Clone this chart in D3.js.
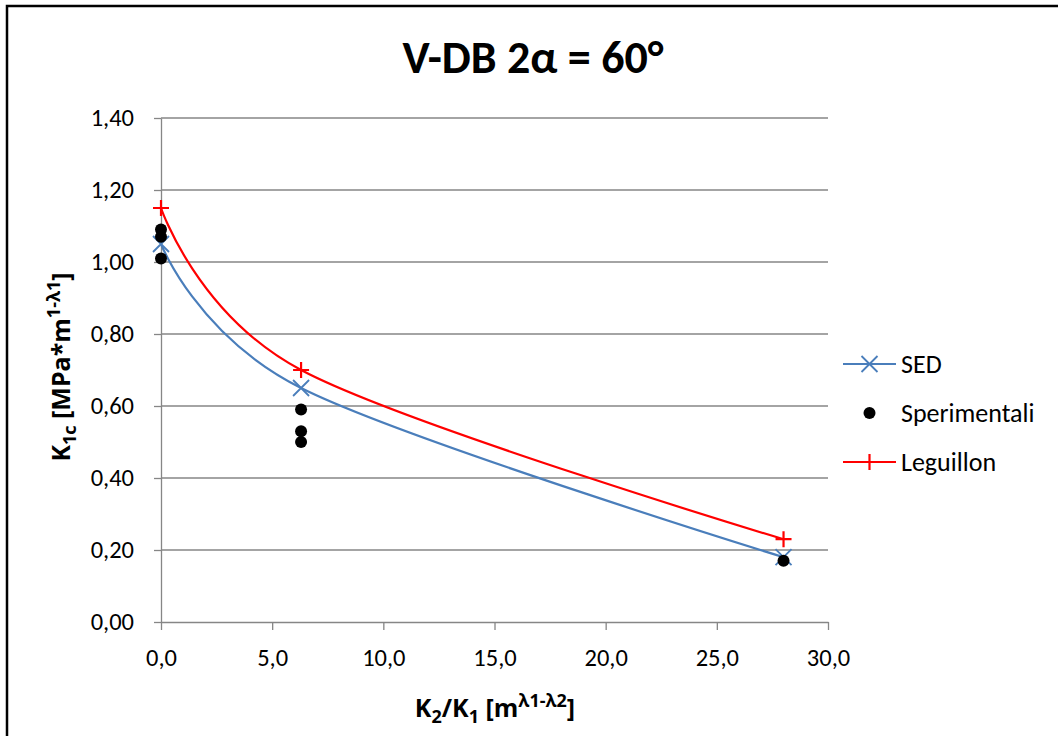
<!DOCTYPE html>
<html>
<head>
<meta charset="utf-8">
<script src="https://cdn.jsdelivr.net/npm/d3@7"></script>
<style>
  html, body { margin: 0; padding: 0; background: #fff; }
  svg { display: block; font-family: Carlito, Lato, "Open Sans", sans-serif; }
</style>
</head>
<body>
<svg id="chart" width="1058" height="736"></svg>
<script>
// Series values
const xCategories = [0.0, 6.3, 28.0];
const sedValues = [1.05, 0.65, 0.18];
const leguillonValues = [1.15, 0.70, 0.23];
const sperimentaliX = [0.0, 0.0, 0.0, 6.3, 6.3, 6.3, 28.0];
const sperimentaliY = [1.09, 1.07, 1.01, 0.59, 0.53, 0.50, 0.17];

// Tick labels
const xTicks = [0, 5, 10, 15, 20, 25, 30];
const yTicks = [0, 0.2, 0.4, 0.6, 0.8, 1.0, 1.2, 1.4];

const svg = d3.select("#chart");
const W = 1058, H = 736;

// Outer chart frame
svg.append("rect")
  .attr("x", 7).attr("y", 6).attr("width", W + 20).attr("height", H + 20)
  .attr("fill", "#fff").attr("stroke", "#000").attr("stroke-width", 2.5);

const plot = { left: 161, right: 828, top: 118, bottom: 622 };
const x = d3.scaleLinear().domain([0, 30]).range([plot.left, plot.right]);
const y = d3.scaleLinear().domain([0, 1.4]).range([plot.bottom, plot.top]);
const fmt = d => d.toFixed(2).replace(".", ",");
const fmtX = d => d.toFixed(1).replace(".", ",");
const gray = "#868686";
const tickFont = 24.5;
const titleFamily = "'Open Sans', Lato, sans-serif";

// Horizontal gridlines
svg.append("g").selectAll("line").data(yTicks.filter(d => d > 0)).join("line")
  .attr("x1", plot.left).attr("x2", plot.right)
  .attr("y1", d => y(d)).attr("y2", d => y(d))
  .attr("stroke", gray).attr("stroke-width", 1.3);

// Y axis
const yAxis = svg.append("g").attr("transform", `translate(${plot.left},0)`)
  .call(d3.axisLeft(y).tickValues(yTicks).tickFormat(fmt).tickSize(7).tickSizeOuter(0).tickPadding(20));
yAxis.select(".domain").attr("stroke", gray).attr("stroke-width", 1.3);
yAxis.selectAll(".tick line").attr("stroke", gray).attr("stroke-width", 1.3);
yAxis.selectAll("text").attr("font-size", tickFont).attr("fill", "#000")
  .attr("font-family", "Carlito, Lato, sans-serif");

// X axis
const xAxis = svg.append("g").attr("transform", `translate(0,${plot.bottom})`)
  .call(d3.axisBottom(x).tickValues(xTicks).tickFormat(fmtX).tickSize(8).tickSizeOuter(0).tickPadding(19));
xAxis.select(".domain").attr("stroke", gray).attr("stroke-width", 1.3);
xAxis.selectAll(".tick line").attr("stroke", gray).attr("stroke-width", 1.3);
xAxis.selectAll("text").attr("font-size", tickFont).attr("fill", "#000")
  .attr("font-family", "Carlito, Lato, sans-serif");

// Smoothed series lines
const line = d3.line().x(d => x(d[0])).y(d => y(d[1])).curve(d3.curveCardinal.tension(0));
const sedPts = xCategories.map((v, i) => [v, sedValues[i]]);
const legPts = xCategories.map((v, i) => [v, leguillonValues[i]]);
const blue = "#4a7ebb", red = "#ff0000";

svg.append("path").datum(sedPts).attr("d", line)
  .attr("fill", "none").attr("stroke", blue).attr("stroke-width", 2.2);
svg.append("path").datum(legPts).attr("d", line)
  .attr("fill", "none").attr("stroke", red).attr("stroke-width", 2.2);

// Markers
function crossX(g, cx, cy, s, color) {
  g.append("path").attr("d", `M${cx - s},${cy - s}L${cx + s},${cy + s}M${cx - s},${cy + s}L${cx + s},${cy - s}`)
    .attr("stroke", color).attr("stroke-width", 1.8).attr("fill", "none");
}
function plus(g, cx, cy, s, color) {
  g.append("path").attr("d", `M${cx - s},${cy}L${cx + s},${cy}M${cx},${cy - s}L${cx},${cy + s}`)
    .attr("stroke", color).attr("stroke-width", 2.2).attr("fill", "none");
}
const mk = svg.append("g");
sedPts.forEach(p => crossX(mk, x(p[0]), y(p[1]), 8, blue));
legPts.forEach(p => plus(mk, x(p[0]), y(p[1]), 8, red));
mk.selectAll("circle").data(sperimentaliX.map((v, i) => [v, sperimentaliY[i]])).join("circle")
  .attr("cx", d => x(d[0])).attr("cy", d => y(d[1])).attr("r", 6).attr("fill", "#000");

// Title
svg.append("text").attr("x", 533).attr("y", 73).attr("text-anchor", "middle")
  .attr("font-size", 46).attr("font-weight", "bold").text("V-DB 2α = 60°");

// Axis titles
const yt = svg.append("text").attr("transform", "translate(70,367) rotate(-90)")
  .attr("text-anchor", "middle").attr("font-size", 25).attr("font-weight", "bold")
  .attr("font-family", titleFamily);
yt.append("tspan").text("K");
yt.append("tspan").attr("font-size", 18).attr("dy", 6).text("1c");
yt.append("tspan").attr("dy", -6).text(" [MPa*m");
yt.append("tspan").attr("font-size", 18).attr("dy", -10).text("1-λ1");
yt.append("tspan").attr("dy", 10).text("]");

const xt = svg.append("text").attr("x", 495).attr("y", 717)
  .attr("text-anchor", "middle").attr("font-size", 25).attr("font-weight", "bold")
  .attr("font-family", titleFamily);
xt.append("tspan").text("K");
xt.append("tspan").attr("font-size", 18).attr("dy", 6).text("2");
xt.append("tspan").attr("dy", -6).text("/K");
xt.append("tspan").attr("font-size", 18).attr("dy", 6).text("1");
xt.append("tspan").attr("dy", -6).text(" [m");
xt.append("tspan").attr("font-size", 18).attr("dy", -10).text("λ1-λ2");
xt.append("tspan").attr("dy", 10).text("]");

// Legend
const legend = [
  { name: "SED", type: "x", color: blue, y: 364 },
  { name: "Sperimentali", type: "dot", color: "#000", y: 413 },
  { name: "Leguillon", type: "plus", color: red, y: 462 }
];
const lg = svg.append("g");
legend.forEach(d => {
  if (d.type !== "dot") {
    lg.append("line").attr("x1", 843).attr("x2", 896).attr("y1", d.y).attr("y2", d.y)
      .attr("stroke", d.color).attr("stroke-width", 2.2);
  }
  if (d.type === "x") crossX(lg, 869.5, d.y, 8, d.color);
  else if (d.type === "plus") plus(lg, 869.5, d.y, 8, d.color);
  else lg.append("circle").attr("cx", 869.5).attr("cy", d.y).attr("r", 6).attr("fill", d.color);
  lg.append("text").attr("x", 901).attr("y", d.y + 9).attr("font-size", 26).text(d.name);
});
</script>
</body>
</html>
